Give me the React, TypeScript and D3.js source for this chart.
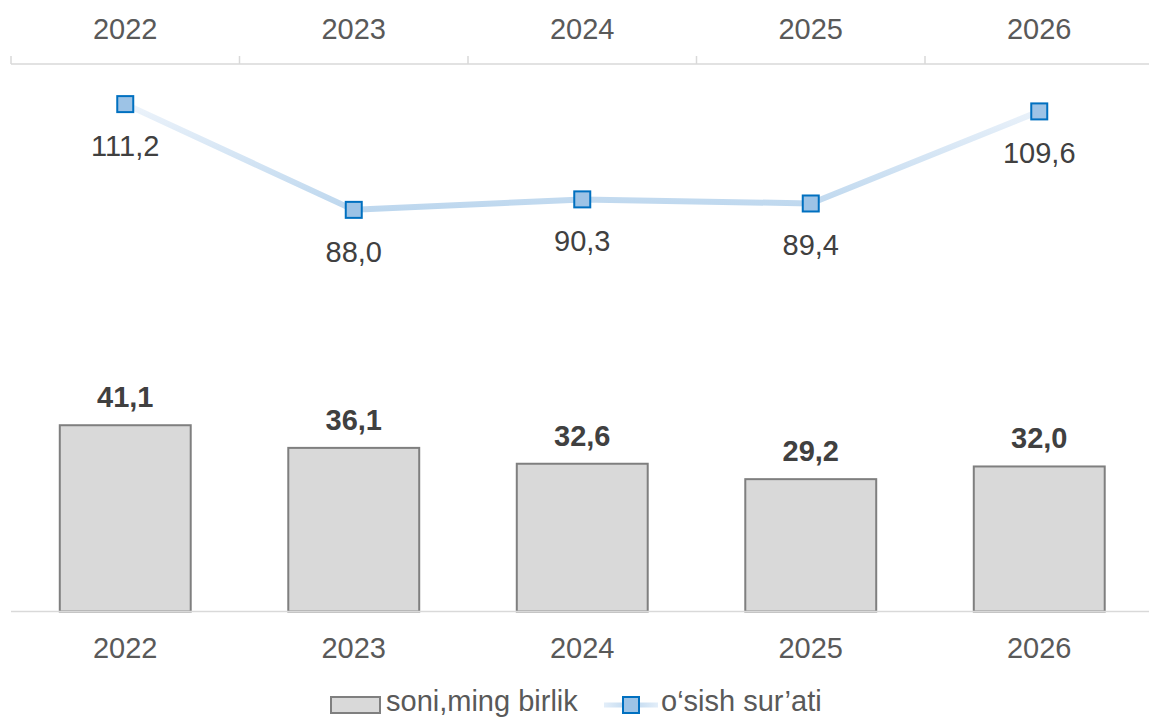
import React from "react";
import * as d3 from "d3";

const years = ["2022", "2023", "2024", "2025", "2026"];
const soni = [41.1, 36.1, 32.6, 29.2, 32.0];
const osish = [111.2, 88.0, 90.3, 89.4, 109.6];
const barLabels = ["41,1", "36,1", "32,6", "29,2", "32,0"];
const lineLabels = ["111,2", "88,0", "90,3", "89,4", "109,6"];

const W = 1149;
const H = 718;
const FONT = "'Liberation Sans', Arial, sans-serif";
const FS = 29;

export default function App() {
  const x = d3.scaleBand<string>().domain(years).range([11, 11 + 5 * 228.5]).padding(0);
  const yBar = d3.scaleLinear().domain([0, 120.8]).range([611.5, 64]);
  const yLine = d3.scaleLinear().domain([0, 120]).range([611, 64]);
  const bw = x.bandwidth() * 0.573;
  const cx = (d: string) => (x(d) as number) + x.bandwidth() / 2;

  const lineGen = d3
    .line<number>()
    .x((_, i) => cx(years[i]))
    .y((d) => yLine(d));

  const ticks = d3.range(0, 6).map((i) => 11 + i * x.bandwidth());

  return (
    <svg
      width={W}
      height={H}
      style={{ position: "absolute", left: 0, top: 0, background: "#fff" }}
      fontFamily={FONT}
    >
      <defs>
        <linearGradient id="lg" gradientUnits="userSpaceOnUse" x1="0" y1={yLine(112)} x2="0" y2={yLine(88)}>
          <stop offset="0" stopColor="#eef4fb" />
          <stop offset="1" stopColor="#bdd7ee" />
        </linearGradient>
        <linearGradient id="lgLeg" gradientUnits="userSpaceOnUse" x1="604" y1="0" x2="658" y2="0">
          <stop offset="0" stopColor="#e3eef9" />
          <stop offset="0.5" stopColor="#bdd7ee" />
          <stop offset="1" stopColor="#e3eef9" />
        </linearGradient>
      </defs>

      {/* top axis */}
      <line x1={11} x2={W} y1={64} y2={64} stroke="#d9d9d9" strokeWidth={1.5} />
      {ticks.map((t, i) => (
        <line key={i} x1={t} x2={t} y1={56} y2={64} stroke="#d9d9d9" strokeWidth={1.5} />
      ))}
      {years.map((y) => (
        <text key={"t" + y} x={cx(y)} y={39} textAnchor="middle" fontSize={FS} fill="#595959">
          {y}
        </text>
      ))}

      {/* bars */}
      {years.map((y, i) => (
        <rect
          key={"b" + y}
          x={cx(y) - bw / 2}
          y={yBar(soni[i])}
          width={bw}
          height={yBar(0) - yBar(soni[i])}
          fill="#d9d9d9"
          stroke="#7f7f7f"
          strokeWidth={2}
        />
      ))}
      {years.map((y, i) => (
        <text
          key={"bl" + y}
          x={cx(y)}
          y={yBar(soni[i]) - 18}
          textAnchor="middle"
          fontSize={FS}
          fontWeight="bold"
          fill="#404040"
        >
          {barLabels[i]}
        </text>
      ))}

      {/* bottom axis */}
      <line x1={11} x2={W} y1={611.5} y2={611.5} stroke="#d9d9d9" strokeWidth={1.5} />
      {years.map((y) => (
        <text key={"x" + y} x={cx(y)} y={658} textAnchor="middle" fontSize={FS} fill="#595959">
          {y}
        </text>
      ))}

      {/* line */}
      <path d={lineGen(osish) || ""} fill="none" stroke="url(#lg)" strokeWidth={6} strokeLinejoin="round" />
      {years.map((y, i) => (
        <rect
          key={"m" + y}
          x={cx(y) - 8}
          y={yLine(osish[i]) - 8}
          width={16}
          height={16}
          fill="#9dc3e6"
          stroke="#0070c0"
          strokeWidth={2}
        />
      ))}
      {years.map((y, i) => (
        <text
          key={"ll" + y}
          x={cx(y)}
          y={yLine(osish[i]) + 52}
          textAnchor="middle"
          fontSize={FS}
          fill="#404040"
        >
          {lineLabels[i]}
        </text>
      ))}

      {/* legend */}
      <rect x={331} y={697} width={49} height={16} fill="#d9d9d9" stroke="#7f7f7f" strokeWidth={2} />
      <text x={386} y={711} fontSize={FS} fill="#595959">
        soni,ming birlik
      </text>
      <line x1={604} x2={658} y1={705} y2={705} stroke="url(#lgLeg)" strokeWidth={5} />
      <rect x={623} y={697} width={16} height={16} fill="#9dc3e6" stroke="#0070c0" strokeWidth={2} />
      <text x={661} y={711} fontSize={FS} fill="#595959">
        o‘sish sur’ati
      </text>
    </svg>
  );
}
